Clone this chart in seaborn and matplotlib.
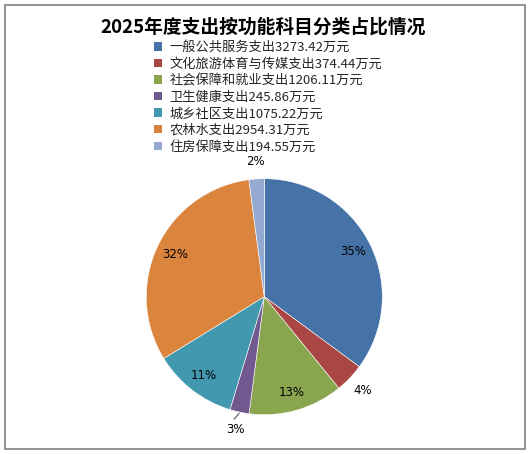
import matplotlib
matplotlib.use("Agg")
import matplotlib.pyplot as plt
import seaborn as sns
import numpy as np

categories = ["一般公共服务支出", "文化旅游体育与传媒支出", "社会保障和就业支出",
              "卫生健康支出", "城乡社区支出", "农林水支出", "住房保障支出"]
values = [3273.42, 374.44, 1206.11, 245.86, 1075.22, 2954.31, 194.55]
pct_labels = ["35%", "4%", "13%", "3%", "11%", "32%", "2%"]
colors = ["#4572A7", "#AA4643", "#89A54E", "#71588F", "#4198AF", "#DB843D", "#93A9CF"]
title = "2025年度支出按功能科目分类占比情况"

sns.set_theme(style="white")
plt.rcParams['font.family'] = ['Noto Sans CJK SC', 'DejaVu Sans']

W, H = 531, 454
fig = plt.figure(figsize=(W / 100, H / 100), dpi=100)
fig.patch.set_facecolor("white")

# outer frame
frame = plt.Rectangle((4.5 / W, 1 - 448.5 / H), (524.5 - 4.5) / W, (448.5 - 4.5) / H,
                      transform=fig.transFigure, fill=False, edgecolor="#808080", linewidth=1.2)
fig.patches.append(frame)

cx, cy, r = 264.3, 296.7, 118.0
ax = fig.add_axes([(cx - r) / W, 1 - (cy + r) / H, 2 * r / W, 2 * r / H])

total = sum(values)
wedges, _ = ax.pie(
    values, colors=colors, startangle=90, counterclock=False, radius=1.0,
    wedgeprops=dict(edgecolor="white", linewidth=0.4))
ax.set_xlim(-1, 1)
ax.set_ylim(-1, 1)
ax.axis("off")

angle = 90.0
for v, lab in zip(values, pct_labels):
    span = v / total * 360
    mid = np.deg2rad(angle - span / 2)
    angle -= span
    d = 1.15 if v / total < 0.05 else 0.84
    ax.text(d * np.cos(mid), d * np.sin(mid), lab, ha="center", va="center",
            fontsize=8.5, color="black", family=["DejaVu Sans"], clip_on=False)
    if v == values[3]:
        ax.plot([1.01 * np.cos(mid), 1.07 * np.cos(mid - 0.03)],
                [1.01 * np.sin(mid), 1.07 * np.sin(mid - 0.03)],
                color="#404040", linewidth=0.7, clip_on=False)

fig.text(263 / W, 1 - 27 / H, title, ha="center", va="center",
         fontsize=13.5, fontweight="bold", color="black")

labels = [f"{c}{v:.2f}万元" for c, v in zip(categories, values)]
leg = fig.legend(wedges, labels, loc="upper left",
                 bbox_to_anchor=(154 / W, 1 - 41 / H),
                 frameon=False, fontsize=9.5, handlelength=0.6, handleheight=0.6,
                 handletextpad=0.6, labelspacing=0.27, borderpad=0, borderaxespad=0)
for h in leg.legend_handles:
    h.set_edgecolor("none")

fig.savefig("out.png", dpi=100, facecolor="white")
